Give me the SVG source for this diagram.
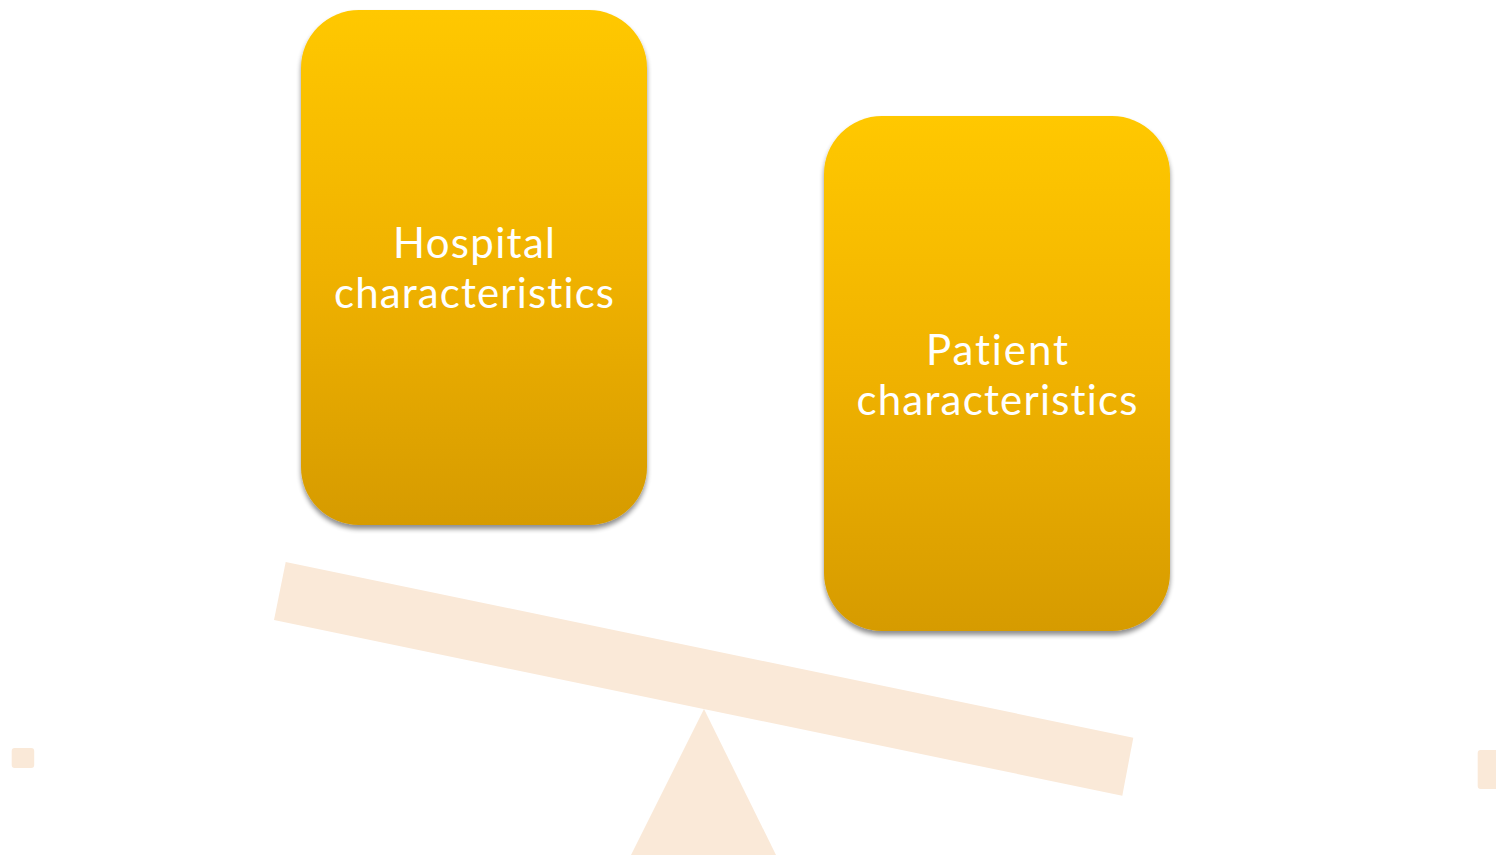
<svg xmlns="http://www.w3.org/2000/svg" width="1496" height="856" viewBox="0 0 1496 856">
  <style>
    .card { fill: url(#cardFill); filter: url(#cardShadow); }
    .label { font-family: Lato, "Open Sans", "Liberation Sans", sans-serif; font-size: 42px; fill: #ffffff; text-anchor: middle; font-variant-ligatures: none; }
    .beam { fill: #FAE9D8; }
  </style>
  <defs>
    <linearGradient id="cardFill" x1="0" y1="0" x2="0" y2="1">
      <stop offset="0" stop-color="#FFC800"/>
      <stop offset="0.5" stop-color="#F0B200"/>
      <stop offset="1" stop-color="#D69B00"/>
    </linearGradient>
    <filter id="cardShadow" x="-10%" y="-10%" width="120%" height="120%">
      <feGaussianBlur in="SourceAlpha" stdDeviation="2.5"/>
      <feOffset dx="0" dy="4" result="off"/>
      <feComponentTransfer><feFuncA type="linear" slope="0.45"/></feComponentTransfer>
      <feMerge><feMergeNode/><feMergeNode in="SourceGraphic"/></feMerge>
    </filter>
  </defs>

  <!-- seesaw: beam and fulcrum -->
  <g id="seesaw">
    <polygon class="beam" points="285.7,562 1133.3,737.7 1122.3,795.7 274,620"/>
    <polygon class="beam" points="704,709 776,855 631,855"/>
  </g>

  <!-- small edge markers -->
  <rect class="beam" x="11.7" y="748" width="22.5" height="20" rx="3"/>
  <rect class="beam" x="1477.7" y="750" width="22" height="39" rx="3"/>

  <g id="node-hospital">
    <rect class="card" x="301" y="10" width="346" height="515" rx="58"/>
    <text class="label" x="474" y="258" textLength="162" lengthAdjust="spacing">Hospital</text>
    <text class="label" x="474" y="308" textLength="280" lengthAdjust="spacing">characteristics</text>
  </g>

  <g id="node-patient">
    <rect class="card" x="824" y="116" width="346" height="515" rx="58"/>
    <text class="label" x="997" y="365" textLength="142" lengthAdjust="spacing">Patient</text>
    <text class="label" x="997" y="415" textLength="281" lengthAdjust="spacing">characteristics</text>
  </g>

  <g id="connectors"/>
</svg>
